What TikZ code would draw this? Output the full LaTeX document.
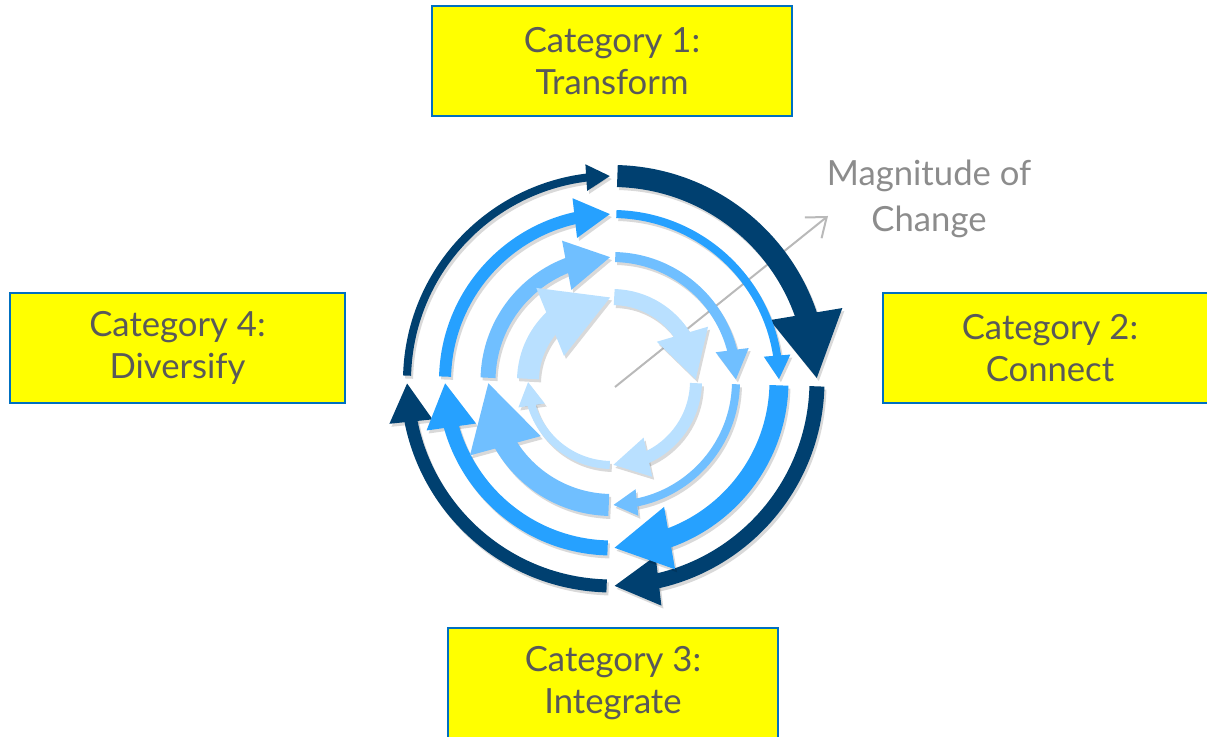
\documentclass[tikz,border=0pt]{standalone}
\usepackage{fontspec}
\setmainfont{Lato}
\usetikzlibrary{arrows.meta}
\usetikzlibrary{bending}
\usetikzlibrary{calc}
\definecolor{boxfill}{RGB}{255,255,0}
\definecolor{boxline}{RGB}{0,112,192}
\definecolor{boxtext}{RGB}{89,89,89}
\definecolor{ringA}{RGB}{0,64,112}
\definecolor{ringB}{RGB}{38,161,255}
\definecolor{ringC}{RGB}{112,191,255}
\definecolor{ringD}{RGB}{185,224,255}
\definecolor{magline}{RGB}{185,185,185}
\definecolor{magtext}{RGB}{140,140,140}
\tikzset{
  catbox/.style={draw=boxline, fill=boxfill, line width=1.5pt, text=boxtext,
    align=center, inner sep=0pt, minimum height=82.5pt,
    font=\fontsize{26}{32}\selectfont},
  ringarrow/.style={-{Triangle[length=0pt 3, width=0pt 3.1]}},
  ringshadow/.style={ringarrow, draw=black, opacity=0.15,
    transform canvas={shift={(2,-3)}}},
  magarrow/.style={draw=magline, line width=1.5pt, -{Straight Barb[length=13pt, width=20pt]}}
}

\begin{document}
\begin{tikzpicture}[x=0.75pt, y=0.75pt]
\useasboundingbox (0,0) rectangle (1207,737);

% Categories
\node[catbox, minimum width=270pt] (cat1) at (612,676) {Category 1:\\Transform};
\node[catbox, minimum width=250.5pt] (cat2) at (1050,389) {Category 2:\\Connect};
\node[catbox, minimum width=247.5pt] (cat3) at (613,54) {Category 3:\\Integrate};
\node[catbox, minimum width=251pt] (cat4) at (177.5,389) {Category 4:\\Diversify};

% Magnitude of change
\coordinate (centre) at (612,356);
\coordinate (magfoot) at (615,350);
\coordinate (magtip) at (828,521);
\draw[magarrow] (magfoot) -- (magtip);
\node[text=magtext, align=center, font=\fontsize{26}{34}\selectfont] (mag) at (929,538) {Magnitude of\\Change};

% Rings: radius / colour / widths of the four quarters
\foreach \r/\col/\wa/\wb/\wc/\wd in {205/ringA/8/22/15/13, 167/ringB/12/8/19/15,
    124/ringC/15/10/8/22, 84/ringD/22/16/12/8}{
  \foreach \s/\w in {180/\wa, 90/\wb, 0/\wc, -90/\wd}{
    \draw[ringshadow, line width={\w*0.75pt}] ($(centre)+(\s-1.5:\r)$)
      arc[start angle=\s-1.5, end angle=\s-89.5, radius=\r];
    \draw[ringarrow, draw=\col, line width={\w*0.75pt}] ($(centre)+(\s-1.5:\r)$)
      arc[start angle=\s-1.5, end angle=\s-89.5, radius=\r];
  }
}

\end{tikzpicture}
\end{document}
